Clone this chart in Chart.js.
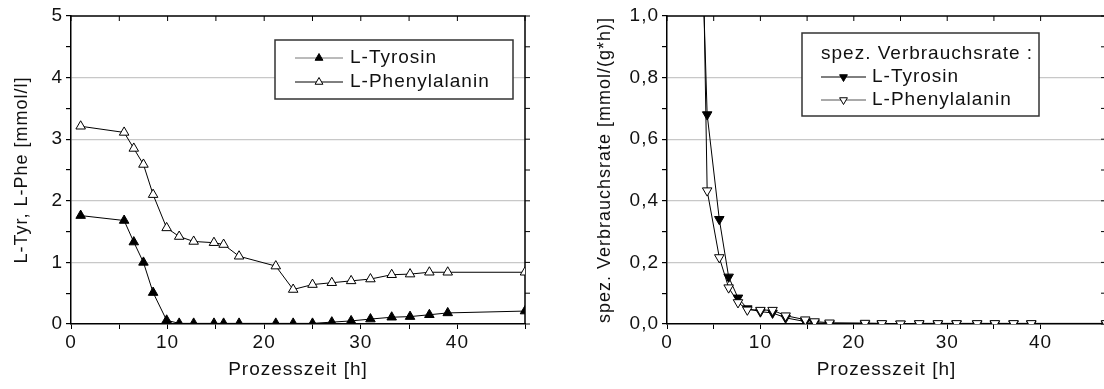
<!DOCTYPE html>
<html>
<head>
<meta charset="utf-8">
<script src="https://cdn.jsdelivr.net/npm/chart.js@4.4.0/dist/chart.umd.min.js"></script>
<style>
  html, body { margin: 0; padding: 0; background: #fff; overflow: hidden; }
  body { width: 1104px; height: 389px; position: relative; }
  .box { position: absolute; top: 0; height: 389px; }
  #left { left: 0; width: 560px; }
  #right { left: 580px; width: 550px; }
</style>
</head>
<body>
<div class="box" id="left"><canvas id="concChart"></canvas></div>
<div class="box" id="right"><canvas id="rateChart"></canvas></div>
<script>
// Konzentrationen im Medium (linkes Diagramm)
var concTime = [1, 5.5, 6.5, 7.5, 8.5, 9.9, 11.2, 12.7, 14.8, 15.8, 17.4, 21.2, 23, 25, 27, 29, 31, 33.2, 35.1, 37.1, 39, 47];
var tyrConc = [1.76, 1.68, 1.33, 1.0, 0.51, 0.06, 0.01, 0.01, 0.01, 0.01, 0.01, 0.01, 0.01, 0.01, 0.03, 0.05, 0.08, 0.11, 0.12, 0.15, 0.18, 0.21];
var pheConc = [3.21, 3.11, 2.85, 2.59, 2.10, 1.56, 1.42, 1.34, 1.32, 1.29, 1.10, 0.94, 0.56, 0.64, 0.67, 0.70, 0.73, 0.80, 0.81, 0.84, 0.84, 0.84];

// spez. Verbrauchsraten (rechtes Diagramm)
var rateTime = [1, 4.3, 5.6, 6.6, 7.6, 8.6, 10, 11.3, 12.7, 14.8, 15.8, 17.4, 21.2, 23, 25, 27, 29, 31, 33.2, 35.1, 37.1, 39, 47];
var tyrRate = [3.9, 0.68, 0.34, 0.153, 0.085, 0.05, 0.04, 0.036, 0.02, 0.008, 0.004, 0.001, 0, 0, 0, 0, 0, 0, 0, 0, 0, 0, 0];
var pheRate = [6.3, 0.433, 0.216, 0.118, 0.07, 0.046, 0.045, 0.045, 0.027, 0.014, 0.008, 0.004, 0.003, 0.002, 0.001, 0.002, 0.002, 0.002, 0.002, 0.002, 0.002, 0.002, 0.002];

// Achsenbeschriftungen
var timeLabels = [0, 10, 20, 30, 40];
var concLabels = [0, 1, 2, 3, 4, 5];
var rateLabels = ["0,0", "0,2", "0,4", "0,6", "0,8", "1,0"];

var FONT = "'Liberation Sans', Arial, sans-serif";
Chart.defaults.font.family = FONT;
Chart.defaults.font.size = 19;
Chart.defaults.color = "#111";

function toPoints(xs, ys) {
  return xs.map((x, i) => ({ x: x, y: ys[i] }));
}

// wider letter spacing like the original export
var spacing = {
  id: "spacing",
  beforeUpdate(chart) { chart.ctx.letterSpacing = "1px"; },
  beforeDraw(chart) { chart.ctx.letterSpacing = "1px"; }
};

// top and right frame with small ticks
var frame = {
  id: "frame",
  beforeDatasetsDraw(chart, args, opts) {
    var a = chart.chartArea, ctx = chart.ctx;
    var xs = chart.scales.x, ys = chart.scales.y;
    ctx.save();
    ctx.strokeStyle = "#000";
    ctx.lineWidth = 1.5;
    ctx.beginPath();
    ctx.moveTo(a.left, a.top);
    ctx.lineTo(a.right, a.top);
    ctx.lineTo(a.right, a.bottom);
    ctx.stroke();
    ctx.lineWidth = 1;
    ctx.beginPath();
    xs.ticks.forEach(t => {
      var px = xs.getPixelForValue(t.value);
      ctx.moveTo(px, a.top);
      ctx.lineTo(px, a.top + 5);
    });
    ys.ticks.forEach(t => {
      var py = ys.getPixelForValue(t.value);
      ctx.moveTo(a.right, py);
      ctx.lineTo(a.right + opts.rightTick, py);
    });
    ctx.stroke();
    ctx.restore();
  }
};

function triangle(ctx, x, y, r, down, filled) {
  var s = down ? -1 : 1;
  ctx.beginPath();
  ctx.moveTo(x, y - s * r);
  ctx.lineTo(x + r * 0.866, y + s * r / 2);
  ctx.lineTo(x - r * 0.866, y + s * r / 2);
  ctx.closePath();
  ctx.fillStyle = filled ? "#000" : "#fff";
  ctx.fill();
  ctx.strokeStyle = "#000";
  ctx.lineWidth = 1;
  ctx.stroke();
}

// legend with frame, like in the original
var boxLegend = {
  id: "boxLegend",
  afterDraw(chart, args, o) {
    var ctx = chart.ctx;
    ctx.save();
    ctx.letterSpacing = "1px";
    ctx.fillStyle = "#fff";
    ctx.fillRect(o.x, o.y, o.w, o.h);
    ctx.strokeStyle = "#333";
    ctx.lineWidth = 1.5;
    ctx.strokeRect(o.x, o.y, o.w, o.h);
    ctx.font = "19px " + FONT;
    ctx.textBaseline = "middle";
    ctx.fillStyle = "#111";
    if (o.title) ctx.fillText(o.title, o.titleX, o.titleY);
    o.items.forEach(it => {
      ctx.strokeStyle = it.lineColor;
      ctx.lineWidth = 1;
      ctx.beginPath();
      ctx.moveTo(o.lineX1, it.y);
      ctx.lineTo(o.lineX2, it.y);
      ctx.stroke();
      triangle(ctx, (o.lineX1 + o.lineX2) / 2, it.y, 4.5, o.down, it.filled);
      ctx.fillStyle = "#111";
      ctx.fillText(it.label, o.textX, it.y);
    });
    ctx.restore();
  }
};

function lineSet(label, data, filled, down, order) {
  return {
    label: label,
    data: data,
    borderColor: "#000",
    borderWidth: 1,
    tension: 0,
    pointStyle: "triangle",
    rotation: down ? 180 : 0,
    pointRadius: 5.5,
    pointBorderWidth: 1,
    pointBorderColor: "#000",
    pointBackgroundColor: filled ? "#000" : "#fff",
    order: order
  };
}

function makeScales(xMax, yMax, yStep, yLabel, yLabelFn, yWidth, titlePad) {
  return {
    x: {
      type: "linear",
      min: 0,
      max: xMax,
      border: { color: "#000", width: 1.5 },
      grid: { drawOnChartArea: false, tickLength: 5, tickColor: "#000" },
      ticks: {
        stepSize: 5,
        padding: 2,
        maxRotation: 0,
        autoSkip: false,
        callback: v => timeLabels.includes(v) ? v : ""
      },
      title: { display: true, text: "Prozesszeit [h]", padding: { top: 0, bottom: 8 } },
      afterFit: s => { s.height = 65; }
    },
    y: {
      type: "linear",
      min: 0,
      max: yMax,
      border: { color: "#000", width: 1.5 },
      grid: {
        tickLength: 5,
        tickColor: "#000",
        lineWidth: 1.2,
        color: c => {
          var lbl = yLabelFn(c.tick.value);
          return lbl !== "" && c.tick.value > 0 && c.tick.value < yMax - 1e-9 ? "#c8c8c8" : "rgba(0,0,0,0)";
        }
      },
      ticks: { stepSize: yStep, padding: 3, autoSkip: false, callback: yLabelFn },
      title: { display: true, text: yLabel, font: { size: 18 }, padding: { top: titlePad, bottom: 0 } },
      afterFit: s => { s.width = yWidth; }
    }
  };
}

new Chart(document.getElementById("concChart"), {
  type: "line",
  data: {
    datasets: [
      lineSet("L-Tyrosin", toPoints(concTime, tyrConc), true, false, 1),
      lineSet("L-Phenylalanin", toPoints(concTime, pheConc), false, false, 0)
    ]
  },
  options: {
    responsive: true,
    maintainAspectRatio: false,
    animation: false,
    layout: { padding: { top: 16, right: 35, left: 0, bottom: 0 } },
    scales: makeScales(47, 5, 0.5, "L-Tyr, L-Phe [mmol/l]", v => {
      var r = Math.round(v * 2) / 2;
      return concLabels.includes(r) ? r : "";
    }, 71, 11),
    plugins: {
      legend: { display: false },
      tooltip: { enabled: false },
      frame: { rightTick: 5 },
      boxLegend: {
        x: 275, y: 40, w: 238, h: 59,
        lineX1: 295, lineX2: 343, textX: 350, down: false,
        items: [
          { label: "L-Tyrosin", y: 58, filled: true, lineColor: "#777" },
          { label: "L-Phenylalanin", y: 82, filled: false, lineColor: "#000" }
        ]
      }
    }
  },
  plugins: [spacing, frame, boxLegend]
});

new Chart(document.getElementById("rateChart"), {
  type: "line",
  data: {
    datasets: [
      lineSet("L-Tyrosin", toPoints(rateTime, tyrRate), true, true, 1),
      lineSet("L-Phenylalanin", toPoints(rateTime, pheRate), false, true, 0)
    ]
  },
  options: {
    responsive: true,
    maintainAspectRatio: false,
    animation: false,
    layout: { padding: { top: 16, right: 24, left: 0, bottom: 0 } },
    scales: makeScales(47, 1, 0.1, "spez. Verbrauchsrate [mmol/(g*h)]", v => {
      var k = Math.round(v * 10);
      return k % 2 === 0 ? rateLabels[k / 2] : "";
    }, 87, 14),
    plugins: {
      legend: { display: false },
      tooltip: { enabled: false },
      frame: { rightTick: -5 },
      boxLegend: {
        x: 222, y: 33, w: 237, h: 83,
        title: "spez. Verbrauchsrate :", titleX: 241, titleY: 54,
        lineX1: 241, lineX2: 286, textX: 292, down: true,
        items: [
          { label: "L-Tyrosin", y: 77, filled: true, lineColor: "#000" },
          { label: "L-Phenylalanin", y: 100, filled: false, lineColor: "#555" }
        ]
      }
    }
  },
  plugins: [spacing, frame, boxLegend]
});
</script>
</body>
</html>
